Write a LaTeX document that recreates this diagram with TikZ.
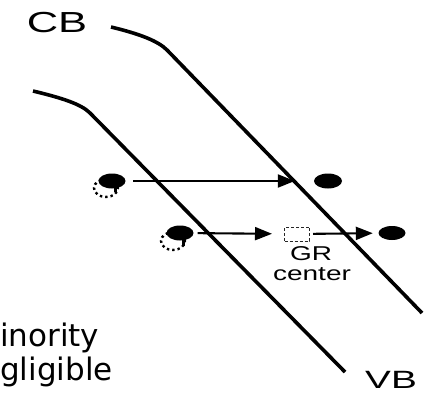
\documentclass[tikz,border=0pt]{standalone}
\usepackage{fontspec}
\setmainfont{Liberation Sans}
\newfontfamily\dejavu{DejaVu Sans}
\usetikzlibrary{arrows.meta,shapes.geometric}
\begin{document}
\begin{tikzpicture}[x=1pt,y=-1pt,
  band/.style={line width=3.6pt},
  electron/.style={ellipse,fill=black,inner sep=0pt,minimum width=27pt,minimum height=15pt},
  holering/.style={line width=2.4pt,dash pattern=on 2.4pt off 3pt},
  arr/.style={line width=2.1pt,-{Triangle[length=17pt,width=13pt]}},
  centerbox/.style={draw=black!85,line width=1pt,densely dashed,minimum width=25pt,minimum height=14pt,inner sep=0pt},
  lbl/.style={inner sep=0pt,anchor=base},
  side/.style={inner sep=0pt,anchor=base west,font=\dejavu\fontsize{31}{31}\selectfont}]
\useasboundingbox (0,0) rectangle (427,395);
% bands
\draw[band] (111,27) .. controls (140,34) and (158,41) .. (167,50) -- (422,313);
\draw[band] (33,91) .. controls (62,98) and (81,104) .. (90,113) -- (345,372);
% labels
\node[lbl,font=\fontsize{29}{29}\selectfont] (cb) at (57,33) {\scalebox{1.5}[1]{CB}};
\node[lbl,font=\fontsize{25}{25}\selectfont] (vb) at (391,388) {\scalebox{1.55}[1]{VB}};
\node[side] (minority) at (0,346) {inority};
\node[side] (negligible) at (0,380) {gligible};
% first pair
\draw[holering] (106,188) ellipse [x radius=12pt, y radius=9pt];
\node[electron] (e1) at (112,181) {};
\fill (113.5,185) rectangle (117,192);
\node[electron,minimum width=28pt,minimum height=15pt] (f1) at (328,181) {};
\draw[arr,shorten <=7.5pt,shorten >=19pt] (e1) -- (f1);
% second pair
\draw[holering] (173,241) ellipse [x radius=12pt, y radius=9pt];
\node[electron] (e2) at (180,233) {};
\fill (181.5,237) rectangle (185,246);
\node[centerbox] (gr) at (297,234) {};
\node[electron,minimum width=27pt,minimum height=14pt] (f2) at (392,233) {};
\draw[arr,shorten <=4pt,shorten >=12pt] (e2) -- (gr);
\draw[arr,shorten <=3pt,shorten >=5.5pt] (gr) -- (f2);
\node[lbl,font=\fontsize{20}{20}\selectfont] (grlabel) at (311,260) {\scalebox{1.4}[1]{GR}};
\node[lbl,font=\fontsize{20}{20}\selectfont] (centerlabel) at (312,280) {\scalebox{1.4}[1]{center}};
\end{tikzpicture}
\end{document}
